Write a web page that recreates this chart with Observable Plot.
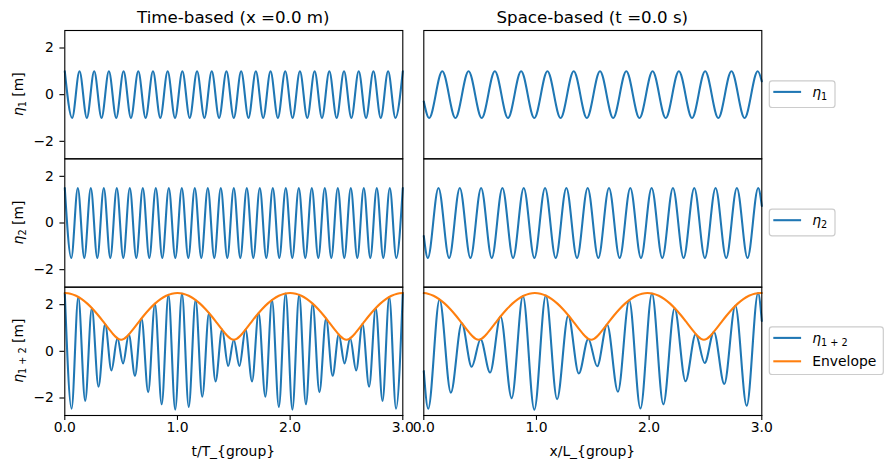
<!DOCTYPE html>
<html><head><meta charset="utf-8">
<script src="https://cdn.jsdelivr.net/npm/d3@7"></script>
<script src="https://cdn.jsdelivr.net/npm/@observablehq/plot@0.6"></script>
<style>
body{margin:0;background:#fff}
#wrap{position:relative;width:892px;height:468px;font-family:"DejaVu Sans";background:#fff}
#wrap svg{position:absolute;left:0;top:0}
</style></head>
<body><div id="wrap"></div>
<script>
// ---------- categories / ticks ----------
const columns = ["time", "space"];
const rows = ["eta1", "eta2", "sum"];
const xTicks = [0, 1, 2, 3];
const yTicks = [-2, 0, 2];

// ---------- time-based panel (x = 0.0 m): extrema ----------
const timeEta1T = [0,0.0652,0.1304,0.1957,0.2609,0.3261,0.3913,0.4565,0.5217,0.5870,0.6522,0.7174,0.7826,0.8478,0.9130,0.9783,1.0435,1.1087,1.1739,1.2391,1.3043,1.3696,1.4348,1.5,1.5652,1.6304,1.6957,1.7609,1.8261,1.8913,1.9565,2.0217,2.0870,2.1522,2.2174,2.2826,2.3478,2.4130,2.4783,2.5435,2.6087,2.6739,2.7391,2.8043,2.8696,2.9348,3.0];
const timeEta1Y = [1,-1,1,-1,1,-1,1,-1,1,-1,1,-1,1,-1,1,-1,1,-1,1,-1,1,-1,1,-1,1,-1,1,-1,1,-1,1,-1,1,-1,1,-1,1,-1,1,-1,1,-1,1,-1,1,-1,1];

const timeEta2T = [0,0.0577,0.1154,0.1731,0.2308,0.2885,0.3462,0.4038,0.4615,0.5192,0.5769,0.6346,0.6923,0.75,0.8077,0.8654,0.9231,0.9808,1.0385,1.0962,1.1538,1.2115,1.2692,1.3269,1.3846,1.4423,1.5,1.5577,1.6154,1.6731,1.7308,1.7885,1.8462,1.9038,1.9615,2.0192,2.0769,2.1346,2.1923,2.25,2.3077,2.3654,2.4231,2.4808,2.5385,2.5962,2.6538,2.7115,2.7692,2.8269,2.8846,2.9423,3.0];
const timeEta2Y = [1.5,-1.5,1.5,-1.5,1.5,-1.5,1.5,-1.5,1.5,-1.5,1.5,-1.5,1.5,-1.5,1.5,-1.5,1.5,-1.5,1.5,-1.5,1.5,-1.5,1.5,-1.5,1.5,-1.5,1.5,-1.5,1.5,-1.5,1.5,-1.5,1.5,-1.5,1.5,-1.5,1.5,-1.5,1.5,-1.5,1.5,-1.5,1.5,-1.5,1.5,-1.5,1.5,-1.5,1.5,-1.5,1.5,-1.5,1.5];

const timeSumT = [0.000,0.060,0.120,0.181,0.240,0.299,0.358,0.414,0.467,0.517,0.568,0.623,0.681,0.740,0.800,0.860,0.920,0.980,1.040,1.100,1.161,1.220,1.280,1.338,1.396,1.450,1.500,1.550,1.604,1.662,1.720,1.780,1.839,1.900,1.960,2.020,2.080,2.140,2.200,2.260,2.319,2.377,2.432,2.483,2.533,2.586,2.642,2.701,2.760,2.820,2.880,2.940,3.000];
const timeSumY = [2.50,-2.46,2.33,-2.12,1.85,-1.52,1.17,-0.82,0.56,-0.52,0.72,-1.05,1.41,-1.75,2.04,-2.27,2.42,-2.50,2.48,-2.38,2.20,-1.95,1.64,-1.29,0.93,-0.63,0.50,-0.63,0.93,-1.29,1.64,-1.95,2.20,-2.38,2.48,-2.50,2.42,-2.27,2.04,-1.75,1.41,-1.05,0.72,-0.52,0.56,-0.82,1.17,-1.52,1.85,-2.12,2.33,-2.46,2.50];

const timeEnvT = [0,0.05,0.1,0.15,0.2,0.25,0.3,0.35,0.4,0.425,0.45,0.475,0.5,0.525,0.55,0.575,0.6,0.65,0.7,0.75,0.8,0.85,0.9,0.95,
  1,1.05,1.1,1.15,1.2,1.25,1.3,1.35,1.4,1.425,1.45,1.475,1.5,1.525,1.55,1.575,1.6,1.65,1.7,1.75,1.8,1.85,1.9,1.95,
  2,2.05,2.1,2.15,2.2,2.25,2.3,2.35,2.4,2.425,2.45,2.475,2.5,2.525,2.55,2.575,2.6,2.65,2.7,2.75,2.8,2.85,2.9,2.95,3];
const timeEnvY = [2.5,2.470,2.383,2.239,2.044,1.803,1.524,1.219,0.907,0.760,0.630,0.536,0.5,0.536,0.630,0.760,0.907,1.219,1.524,1.803,2.044,2.239,2.383,2.470,
  2.5,2.470,2.383,2.239,2.044,1.803,1.524,1.219,0.907,0.760,0.630,0.536,0.5,0.536,0.630,0.760,0.907,1.219,1.524,1.803,2.044,2.239,2.383,2.470,
  2.5,2.470,2.383,2.239,2.044,1.803,1.524,1.219,0.907,0.760,0.630,0.536,0.5,0.536,0.630,0.760,0.907,1.219,1.524,1.803,2.044,2.239,2.383,2.470,2.5];

// ---------- space-based panel (t = 0.0 s): extrema ----------
const spaceEta1X = [0,0.0473,0.1640,0.2807,0.3973,0.5140,0.6307,0.7473,0.8640,0.9807,1.0973,1.2140,1.3307,1.4473,1.5640,1.6807,1.7973,1.9140,2.0307,2.1473,2.2640,2.3807,2.4973,2.6140,2.7307,2.8473,2.964,3.0];
const spaceEta1Y = [-0.29,-1,1,-1,1,-1,1,-1,1,-1,1,-1,1,-1,1,-1,1,-1,1,-1,1,-1,1,-1,1,-1,1,0.57];

const spaceEta2X = [0,0.0357,0.1303,0.2249,0.3195,0.4140,0.5086,0.6032,0.6978,0.7924,0.8870,0.9816,1.0762,1.1708,1.2654,1.3600,1.4545,1.5491,1.6437,1.7383,1.8329,1.9275,2.0221,2.1167,2.2113,2.3059,2.4005,2.4950,2.5896,2.6842,2.7788,2.8734,2.968,3.0];
const spaceEta2Y = [-0.56,-1.5,1.5,-1.5,1.5,-1.5,1.5,-1.5,1.5,-1.5,1.5,-1.5,1.5,-1.5,1.5,-1.5,1.5,-1.5,1.5,-1.5,1.5,-1.5,1.5,-1.5,1.5,-1.5,1.5,-1.5,1.5,-1.5,1.5,-1.5,1.5,0.73];

const spaceSumX = [0.000,0.039,0.140,0.240,0.337,0.425,0.504,0.588,0.681,0.780,0.880,0.981,1.083,1.183,1.282,1.376,1.460,1.539,1.627,1.723,1.823,1.923,2.025,2.126,2.226,2.323,2.413,2.493,2.575,2.667,2.765,2.866,2.967,3.000];
const spaceSumY = [-0.85,-2.46,2.22,-1.77,1.20,-0.66,0.52,-0.91,1.49,-2.01,2.37,-2.50,2.39,-2.05,1.53,-0.95,0.53,-0.64,1.15,-1.73,2.19,-2.45,2.48,-2.27,1.84,-1.28,0.73,-0.50,0.83,-1.40,1.95,-2.33,2.50,1.30];

const spaceEnvX = [0,0.036,0.086,0.136,0.186,0.236,0.286,0.336,0.386,0.411,0.436,0.461,0.486,0.511,0.536,0.561,0.586,0.636,0.686,0.736,0.786,0.836,0.886,0.936,0.986,
  1.036,1.086,1.136,1.186,1.236,1.286,1.336,1.386,1.411,1.436,1.461,1.486,1.511,1.536,1.561,1.586,1.636,1.686,1.736,1.786,1.836,1.886,1.936,1.986,
  2.036,2.086,2.136,2.186,2.236,2.286,2.336,2.386,2.411,2.436,2.461,2.486,2.511,2.536,2.561,2.586,2.636,2.686,2.736,2.786,2.836,2.886,2.936,2.986,3];
const spaceEnvY = [2.498,2.470,2.383,2.239,2.044,1.803,1.524,1.219,0.907,0.760,0.630,0.536,0.5,0.536,0.630,0.760,0.907,1.219,1.524,1.803,2.044,2.239,2.383,2.470,2.5,
  2.470,2.383,2.239,2.044,1.803,1.524,1.219,0.907,0.760,0.630,0.536,0.5,0.536,0.630,0.760,0.907,1.219,1.524,1.803,2.044,2.239,2.383,2.470,2.5,
  2.470,2.383,2.239,2.044,1.803,1.524,1.219,0.907,0.760,0.630,0.536,0.5,0.536,0.630,0.760,0.907,1.219,1.524,1.803,2.044,2.239,2.383,2.470,2.5,2.498];

// ---------- table for Plot ----------
const pack = (xs, ys, col, row, series) => xs.map((x, i) => ({x, y: ys[i], col, row, series}));
const waves = [
  ...pack(timeEta1T, timeEta1Y, "time", "eta1", "eta1"),
  ...pack(timeEta2T, timeEta2Y, "time", "eta2", "eta2"),
  ...pack(timeSumT, timeSumY, "time", "sum", "sum"),
  ...pack(spaceEta1X, spaceEta1Y, "space", "eta1", "eta1"),
  ...pack(spaceEta2X, spaceEta2Y, "space", "eta2", "eta2"),
  ...pack(spaceSumX, spaceSumY, "space", "sum", "sum")
];
const envelope = [
  ...pack(timeEnvT, timeEnvY, "time", "sum", "env"),
  ...pack(spaceEnvX, spaceEnvY, "space", "sum", "env")
];

const BLUE = "#1f77b4", ORANGE = "#ff7f0e";
const LW = 2.08, SPINE = 1.11;
const yFmt = d => (d < 0 ? "\u2212" : "") + Math.abs(d);

const chart = Plot.plot({
  width: 892, height: 468,
  marginLeft: 64.3, marginRight: 130.7, marginTop: 30, marginBottom: 53,
  style: {fontFamily: "DejaVu Sans", fontSize: "13.9px", background: "transparent", color: "black", overflow: "visible"},
  x: {domain: [0, 3]},
  y: {domain: [-2.75, 2.75]},
  fx: {domain: columns, paddingInner: 21 / 359, paddingOuter: 0, round: false, axis: null},
  fy: {domain: rows, paddingInner: 0, paddingOuter: 0, round: false, axis: null},
  marks: [
    Plot.line(waves, {x: "x", y: "y", fx: "col", fy: "row", z: "series", stroke: BLUE, strokeWidth: LW, curve: "monotone-x"}),
    Plot.line(envelope, {x: "x", y: "y", fx: "col", fy: "row", z: "series", stroke: ORANGE, strokeWidth: LW, curve: "monotone-x"}),
    Plot.frame({stroke: "black", strokeWidth: SPINE}),
    Plot.axisX({ticks: xTicks, tickFormat: d => d.toFixed(1), facetAnchor: "bottom", tickSize: 4.9, tickPadding: 2, strokeWidth: SPINE, label: null}),
    Plot.axisY({ticks: yTicks, tickFormat: yFmt, facetAnchor: "left", tickSize: 4.9, tickPadding: 6, strokeWidth: SPINE, label: null})
  ]
});
const wrap = document.getElementById("wrap");
wrap.appendChild(chart);

// ---------- titles, axis labels, legends ----------
const titles = ["Time-based (x =0.0 m)", "Space-based (t =0.0 s)"];
const xLabels = ["t/T_{group}", "x/L_{group}"];
const colCenters = [233.3, 592.3];
const rowCenters = [94.2, 222.5, 350.7];
const ySubs = ["1", "2", "1 + 2"];
const legendEntries = [
  [{sub: "1", color: BLUE}],
  [{sub: "2", color: BLUE}],
  [{sub: "1 + 2", color: BLUE}, {text: "Envelope", color: ORANGE}]
];

const ov = d3.create("svg").attr("width", 892).attr("height", 468)
  .style("font-family", "DejaVu Sans").style("overflow", "visible");

titles.forEach((t, i) => ov.append("text").attr("x", colCenters[i]).attr("y", 22.5)
  .attr("text-anchor", "middle").attr("font-size", 16.67).text(t));
xLabels.forEach((t, i) => ov.append("text").attr("x", colCenters[i]).attr("y", 455.5)
  .attr("text-anchor", "middle").attr("font-size", 13.9).text(t));

function eta(sel, sub, size) {
  sel.append("tspan").attr("font-style", "italic").text("\u03b7");
  sel.append("tspan").attr("font-size", size * 0.7).attr("dy", size * 0.22).text(sub);
}
ySubs.forEach((s, i) => {
  const t = ov.append("text").attr("transform", `translate(23,${rowCenters[i]}) rotate(-90)`)
    .attr("text-anchor", "middle").attr("font-size", 13.9);
  eta(t, s, 13.9);
  t.append("tspan").attr("dy", -13.9 * 0.22).text(" [m]");
});

legendEntries.forEach((items, i) => {
  const h = items.length === 1 ? 26.6 : 47.6;
  const w = items.length === 1 ? 65.7 : 114;
  const top = rowCenters[i] - h / 2;
  ov.append("rect").attr("x", 769.3).attr("y", top).attr("width", w).attr("height", h)
    .attr("rx", 2.8).attr("fill", "white").attr("fill-opacity", 0.8)
    .attr("stroke", "#cccccc").attr("stroke-width", 1.2);
  items.forEach((it, j) => {
    const ly = top + 11 + j * 23.4;
    ov.append("line").attr("x1", 773.3).attr("x2", 801.1).attr("y1", ly).attr("y2", ly)
      .attr("stroke", it.color).attr("stroke-width", LW);
    const t = ov.append("text").attr("x", 812.2).attr("y", ly + 4.6).attr("font-size", 13.9);
    if (it.sub) eta(t, it.sub, 13.9); else t.text(it.text);
  });
});
wrap.appendChild(ov.node());
</script>
</body></html>
